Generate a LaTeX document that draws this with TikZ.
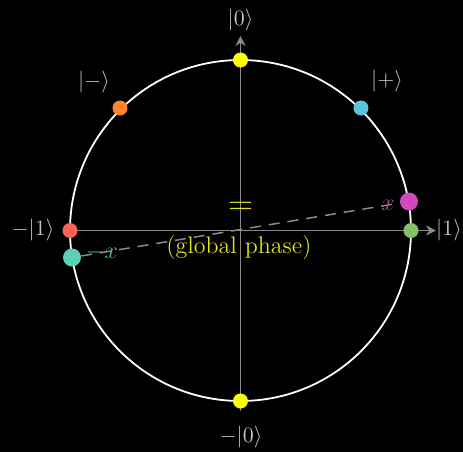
\documentclass[tikz,border=0pt]{standalone}
\usepackage{amsmath}
\usetikzlibrary{arrows.meta,backgrounds}
\pgfdeclarelayer{canvas}
\pgfsetlayers{canvas,background,main}
\definecolor{lbl}{HTML}{C4C4C4}
\definecolor{axisgray}{HTML}{8A8A8A}
\definecolor{dotyellow}{HTML}{FFFF00}
\definecolor{dotred}{HTML}{FC6255}
\definecolor{dotgreen}{HTML}{83C167}
\definecolor{dotorange}{HTML}{FF862F}
\definecolor{dotblue}{HTML}{58C4DD}
\definecolor{dotpink}{HTML}{D147BD}
\definecolor{dotteal}{HTML}{5CD0B3}
\definecolor{txtyellow}{HTML}{E2E21B}
\definecolor{txtpink}{HTML}{B7409F}
\definecolor{txtteal}{HTML}{4FB79C}
\tikzset{
  dot/.style={circle,fill=#1,inner sep=0pt,minimum size=7.5pt},
  bigdot/.style={dot=#1,minimum size=9pt},
  ket/.style={text=lbl,inner sep=1pt,font=\fontsize{11}{13}\selectfont},
  note/.style={text=txtyellow,inner sep=1pt,font=\large},
  axis/.style={draw=axisgray,line width=.8pt,-{Stealth[length=5pt,width=5pt]}},
  phase/.style={draw=axisgray,line width=.75pt,dash pattern=on 5.5pt off 4pt},
  circ/.style={draw=white,line width=.9pt},
}

\begin{document}
\begin{tikzpicture}[x=0.5pt,y=-0.5pt]
  \begin{pgfonlayer}{canvas}
    \fill[black] (0,0) rectangle (463,452);
  \end{pgfonlayer}
  \useasboundingbox (0,0) rectangle (463,452);
  % states on the circle
  \node[dot=dotyellow] (zero) at (240.5,60) {};
  \node[dot=dotyellow] (mzero) at (240.5,401) {};
  \node[dot=dotred] (mone) at (70,230.5) {};
  \node[dot=dotgreen] (one) at (411,230.5) {};
  \node[dot=dotorange] (minus) at (120,108) {};
  \node[dot=dotblue] (plus) at (361,108) {};
  \node[bigdot=dotpink] (psi) at (409,201.5) {};
  \node[bigdot=dotteal] (mpsi) at (72,257.5) {};
  % axes and circle
  \coordinate (o) at (240.5,230.5);
  \coordinate (xtip) at (436,230.5);
  \coordinate (ytip) at (240.5,36);
  \coordinate (ybot) at (240.5,411);
  \begin{pgfonlayer}{background}
    \draw[axis] (mone.center) -- (xtip);
    \draw[axis] (ybot) -- (ytip);
    \draw[circ] (o) circle[radius=85.25pt];
  \end{pgfonlayer}
  \draw[phase] (mpsi) -- (psi);
  % labels
  \node[ket] (l0) at (240.5,20) {$|0\rangle$};
  \node[ket] (l1) at (449,230.5) {$|1\rangle$};
  \node[ket] (lm1) at (33,230.5) {$-|1\rangle$};
  \node[ket] (lm0) at (241,437) {$-|0\rangle$};
  \node[ket] (lminus) at (94,82) {$|-\rangle$};
  \node[ket] (lplus) at (387,81) {$|+\rangle$};
  \node[text=txtpink,inner sep=1pt,font=\large] (lx) at (388,205) {$x$};
  \node[text=txtteal,inner sep=1pt,font=\large] (lmx) at (102,252) {$-x$};
  \node[note,font=\LARGE] (eq) at (240.5,208) {$=$};
  \node[note] (gp) at (239,248) {(global phase)};
\end{tikzpicture}
\end{document}
